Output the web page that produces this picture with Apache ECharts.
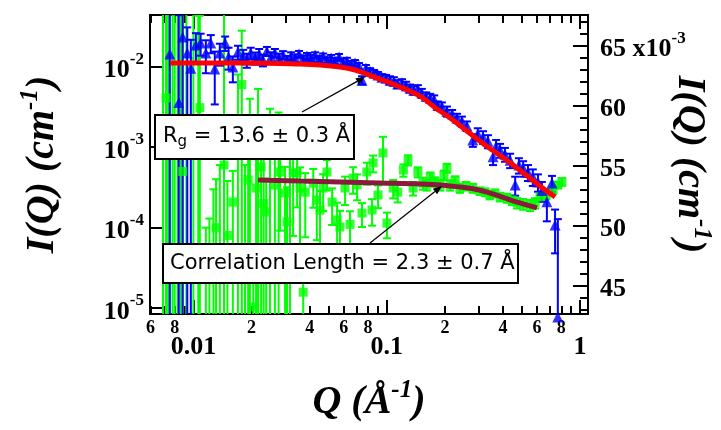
<!DOCTYPE html>
<html>
<head>
<meta charset="utf-8">
<script src="https://cdn.jsdelivr.net/npm/echarts@6/dist/echarts.min.js"></script>
<style>
html, body { margin: 0; padding: 0; background: #fff; }
#chart { width: 721px; height: 430px; }
</style>
</head>
<body>
<div id="chart"></div>
<script>
// blue triangles: Rg data set, green squares: correlation length data set
const blueQ = [0.00755, 0.0084, 0.0088, 0.0093, 0.0097, 0.0103, 0.0109, 0.0116, 0.0123, 0.0129, 0.0137, 0.0146, 0.0152, 0.0160, 0.0170,
  0.0181, 0.0189, 0.0198, 0.0209, 0.0219, 0.0229, 0.0240, 0.0252, 0.0264, 0.0277, 0.0291, 0.0305, 0.0320, 0.0335, 0.0352, 0.0369, 0.0387, 0.0406, 0.0426, 0.0447, 0.0469, 0.0491,
  0.0516, 0.0540, 0.0567, 0.0594, 0.0623, 0.0654, 0.0686, 0.0719, 0.0745, 0.0781, 0.0820, 0.0860, 0.0901, 0.0945, 0.0992,
  0.104, 0.109, 0.114, 0.120, 0.126, 0.132, 0.138, 0.145, 0.152, 0.160, 0.168, 0.176, 0.184, 0.193, 0.205, 0.218, 0.231, 0.245, 0.260,
  0.279, 0.296, 0.315, 0.334, 0.355, 0.368, 0.386, 0.409, 0.435, 0.462, 0.483, 0.508, 0.538, 0.570, 0.606, 0.635, 0.674, 0.716, 0.743, 0.768]
const blueI = [0.0144, 0.0036, 0.0234, 0.0148, 0.0096, 0.0186, 0.0197, 0.0148, 0.0197, 0.0094, 0.0148, 0.0197, 0.0132, 0.0099, 0.0152,
  0.0136, 0.0121, 0.0148, 0.0128, 0.0144, 0.0121, 0.0156, 0.0132, 0.0148, 0.0128, 0.0140, 0.0121, 0.0136, 0.0128, 0.0144, 0.0125, 0.0136, 0.0128, 0.0140, 0.0125, 0.0136, 0.0121,
  0.0128, 0.0118, 0.0132, 0.0115, 0.0118, 0.0108, 0.0111, 0.0102, 0.0068, 0.0096, 0.0088, 0.0083, 0.0079, 0.0074, 0.0072,
  0.0068, 0.0066, 0.0061, 0.0063, 0.0058, 0.0054, 0.0051, 0.0053, 0.0047, 0.0043, 0.0041, 0.0039, 0.0033, 0.0032, 0.0028, 0.0026, 0.0023, 0.0021, 0.00184,
  0.00123, 0.00146, 0.00134, 0.00119, 0.00076, 0.00103, 0.00092, 0.00082, 0.00069, 0.00034, 0.00060, 0.00055, 0.00049, 0.00043, 0.00037, 0.00029, 0.00021, 0.00036, 0.000108, 0.0000078]
const blueErr = [0.04, 0.04, 0.025, 0.016, 0.012, 0.0075, 0.006, 0.0065, 0.005, 0.006, 0.0045, 0.004, 0.004, 0.0035, 0.003,
  0.0026, 0.0024, 0.0024, 0.0022, 0.0022, 0.002, 0.002, 0.0019, 0.0018, 0.0017, 0.0016, 0.0015, 0.0015, 0.0014, 0.0013, 0.0013, 0.0012, 0.0012, 0.0011, 0.0011, 0.001, 0.001,
  0.0012, 0.0011, 0.0012, 0.0011, 0.0011, 0.001, 0.001, 0.0009, 0.0008, 0.0009, 0.0008, 0.0008, 0.0007, 0.0007, 0.0007,
  0.0008, 0.0008, 0.0007, 0.0007, 0.0007, 0.0006, 0.0006, 0.0006, 0.0006, 0.0005, 0.0005, 0.0005, 0.0004, 0.0004, 0.0004, 0.0003, 0.0003, 0.0003, 0.00025,
  0.00022, 0.00026, 0.00024, 0.00022, 0.00016, 0.0002, 0.00018, 0.00016, 0.00014, 0.00009, 0.00013, 0.00012, 0.00011, 0.0001, 0.00009, 0.00008, 0.00009, 0.00008, 0.00006, 0.00012]

const greenQ = [0.00696, 0.00722, 0.0074, 0.0078, 0.008, 0.0083, 0.0086, 0.0088, 0.0092, 0.01, 0.0106, 0.0108,
  0.0116, 0.0121, 0.0127, 0.0131, 0.0137, 0.0144, 0.015, 0.016, 0.017, 0.0178, 0.0185, 0.0192, 0.0196, 0.0204,
  0.0211, 0.0216, 0.0224, 0.0231, 0.0238, 0.0249, 0.0264, 0.0276, 0.0281, 0.0298, 0.0305, 0.0316, 0.0328, 0.0344,
  0.0356, 0.037, 0.0379, 0.0417, 0.0435, 0.0452, 0.0469, 0.0491, 0.0522, 0.0554, 0.0573, 0.0609, 0.0646, 0.067,
  0.0703, 0.0745, 0.079, 0.084, 0.085, 0.0902, 0.0957, 0.1003, 0.108, 0.114, 0.122, 0.129, 0.137, 0.145, 0.154,
  0.161, 0.168, 0.178, 0.189, 0.198, 0.205, 0.213, 0.226, 0.239, 0.257, 0.279, 0.304, 0.323, 0.342, 0.363, 0.386,
  0.419, 0.445, 0.473, 0.508, 0.552, 0.586, 0.621, 0.668, 0.725, 0.768, 0.806]
const greenI = [0.001, 0.0041, -0.002, 0.0008, -0.004, 0.002, -0.001, 0.0005, -0.003, 0.0009, -0.002, 0.0031,
  -0.0003, 0.00005, -0.0002, 0.0001, -0.0005, 0.0006, 0.00008, 0.000208, 0.002, 0.006, -0.0004, 0.000392, 0.0015, 0.0000104,
  0.000311, 0.002, 0.000568, 0.0002, 0.000157, 0.0012, 0.000339, 0.0013, 0.000492, 0.00027, 0.000118, 0.0009, 0.000479, 0.000479,
  0.000311, 0.0000158, 0.000276, 0.000357, 0.00022, 0.000165, 0.000311, 0.000492, 0.000208, 0.000125, 0.000102, 0.000311, 0.00011, 0.000414,
  0.000339, 0.000152, 0.000492, 0.000166, 0.000637, 0.000255, 0.000848, 0.000114, 0.000311, 0.000276, 0.00052, 0.000693, 0.000311, 0.000492, 0.000357,
  0.000339, 0.000426, 0.000372, 0.000339, 0.000452, 0.000552, 0.000339, 0.000392, 0.000311, 0.00033, 0.000311, 0.000285, 0.000276, 0.000255, 0.000268, 0.000242,
  0.000234, 0.000221, 0.000203, 0.000197, 0.000191, 0.000203, 0.000242, 0.000255, 0.000294, 0.000339, 0.000372]
const greenErr = [0.06, 0.06, 0.05, 0.05, 0.06, 0.05, 0.05, 0.05, 0.06, 0.05, 0.045, 0.04,
  0.0004, 0.00008, 0.0005, 0.0003, 0.0011, 0.05, 0.0003, 0.0003, 0.006, 0.022, 0.001, 0.0005, 0.0025, 0.00002,
  0.0004, 0.0033, 0.0006, 0.0006, 0.00025, 0.0018, 0.0004, 0.0014, 0.0004, 0.0003, 0.0002, 0.001, 0.0004, 0.0003,
  0.00025, 0.00004, 0.0002, 0.00018, 0.00015, 0.00012, 0.00015, 0.0002, 0.0001, 0.00008, 0.00006, 0.00012, 0.00005, 0.00015,
  0.00012, 0.00005, 0.00015, 0.00006, 0.00015, 0.00008, 0.0005, 0.00004, 0.00008, 0.00007, 0.00009, 0.0001, 0.00006, 0.00007, 0.00006,
  0.00005, 0.00006, 0.00005, 0.00005, 0.00006, 0.00007, 0.00005, 0.00004, 0.00004, 0.00004, 0.00004, 0.00003, 0.00003, 0.00003, 0.00003, 0.00003,
  0.00003, 0.00003, 0.00003, 0.00003, 0.00003, 0.00003, 0.00003, 0.00003, 0.00003, 0.00003, 0.00004]

// fitted curves
const rgFitQ = [0.00757, 0.0196, 0.0356, 0.0452, 0.0573, 0.0686, 0.079, 0.0923, 0.104, 0.124, 0.149, 0.178, 0.213, 0.304, 0.435, 0.621, 0.743]
const rgFitI = [0.0111, 0.0111, 0.0108, 0.0105, 0.0099, 0.0091, 0.0081, 0.007, 0.0063, 0.0053, 0.0043, 0.0031, 0.00231, 0.00119, 0.00064, 0.00033, 0.00024]
const corrFitQ = [0.0216, 0.0356, 0.0573, 0.0923, 0.149, 0.196, 0.28, 0.35, 0.435, 0.507, 0.599]
const corrFitI = [0.000392, 0.00038, 0.00037, 0.00036, 0.00035, 0.000336, 0.000305, 0.000265, 0.000222, 0.000198, 0.000176]

// axes
const qMin = 0.005964, qMax = 1.1
const iMin = 8.47e-6, iMax = 0.0439
const rightMin = 42.64, rightMax = 67.56
const qMinorTicks = [0.006, 0.007, 0.008, 0.009, 0.02, 0.03, 0.04, 0.05, 0.06, 0.07, 0.08, 0.09, 0.2, 0.3, 0.4, 0.5, 0.6, 0.7, 0.8, 0.9]
const qMinorLabels = [0.006, 0.008, 0.02, 0.04, 0.06, 0.08, 0.2, 0.4, 0.6, 0.8]
const qDecades = [0.01, 0.1, 1]
const iDecades = [1e-5, 1e-4, 1e-3, 1e-2]
const rightMinorTicks = [43, 44, 45, 46, 47, 48, 49, 50, 51, 52, 53, 54, 55, 56, 57, 58, 59, 60, 61, 62, 63, 64, 65, 66, 67]
const rightMajorTicks = [45, 50, 55, 60, 65]

const lg = Math.log10
const serif = 'Liberation Serif'
const black = { color: '#000', width: 2 }

function leadDigit(v) {
  const e = Math.floor(v + 1e-9)
  return String(Math.round(Math.pow(10, v - e)))
}

function xAxis(position, ticks, len, label) {
  return {
    type: 'value', position: position, min: lg(qMin), max: lg(qMax),
    axisLine: { onZero: false, lineStyle: black },
    axisTick: { inside: true, length: len, lineStyle: black, customValues: ticks.map(lg) },
    axisLabel: label || { show: false },
    splitLine: { show: false }
  }
}

function errorBars(color) {
  return function (params, api) {
    const x = api.value(0)
    const lo = api.coord([x, api.value(1)])
    const hi = api.coord([x, api.value(2)])
    const cap = 4
    const style = { stroke: color, lineWidth: 2 }
    return {
      type: 'group',
      children: [
        { type: 'line', shape: { x1: hi[0], y1: hi[1], x2: lo[0], y2: lo[1] }, style: style },
        { type: 'line', shape: { x1: hi[0] - cap, y1: hi[1], x2: hi[0] + cap, y2: hi[1] }, style: style },
        { type: 'line', shape: { x1: lo[0] - cap, y1: lo[1], x2: lo[0] + cap, y2: lo[1] }, style: style }
      ]
    }
  }
}

function barData(qs, is, es) {
  return qs.map((q, k) => {
    const low = is[k] - es[k]
    return [lg(q), low > 0 ? lg(low) : -9, lg(is[k] + es[k])]
  })
}

function pointData(qs, is) {
  return qs.map((q, k) => [q, is[k]]).filter(p => p[1] > 0).map(p => [lg(p[0]), lg(p[1])])
}

function arrow(x1, y1, x2, y2) {
  const a = Math.atan2(y2 - y1, x2 - x1)
  const bx = x2 - 9 * Math.cos(a), by = y2 - 9 * Math.sin(a)
  const px = -Math.sin(a) * 3.5, py = Math.cos(a) * 3.5
  return [
    { type: 'line', z: 100, shape: { x1: x1, y1: y1, x2: bx, y2: by }, style: { stroke: '#000', lineWidth: 1.2 } },
    { type: 'polygon', z: 100, shape: { points: [[x2, y2], [bx + px, by + py], [bx - px, by - py]] }, style: { fill: '#000' } }
  ]
}

const titleRich = {
  i: { fontFamily: serif, fontWeight: 'bold', fontStyle: 'italic', fontSize: 40, lineHeight: 50, color: '#000' },
  s: { fontFamily: serif, fontWeight: 'bold', fontStyle: 'italic', fontSize: 25, lineHeight: 25, verticalAlign: 'top', color: '#000' }
}
const tickRich = {
  b: { fontFamily: serif, fontWeight: 'bold', fontSize: 26, lineHeight: 40, color: '#000' },
  s: { fontFamily: serif, fontWeight: 'bold', fontSize: 17, lineHeight: 17, verticalAlign: 'top', color: '#000' }
}
const boxFont = 'DejaVu Sans'

const chart = echarts.init(document.getElementById('chart'))
chart.setOption({
  animation: false,
  backgroundColor: '#fff',
  grid: { left: 150, right: 133, top: 15, bottom: 116, outerBoundsMode: 'none', containLabel: false },
  xAxis: [
    xAxis('bottom', qMinorTicks, 8, {
      customValues: qMinorLabels.map(lg), formatter: leadDigit, margin: 5,
      color: '#000', fontFamily: serif, fontWeight: 'bold', fontSize: 18
    }),
    Object.assign(xAxis('bottom', qDecades, 14, {
      customValues: qDecades.map(lg), formatter: v => String(Math.pow(10, Math.round(v))), margin: 20,
      color: '#000', fontFamily: serif, fontWeight: 'bold', fontSize: 26
    }), {
      name: '{i|Q (Å}{s|-1}{i|)}', nameLocation: 'middle', nameGap: 64,
      nameTextStyle: { rich: titleRich }
    }),
    xAxis('top', qMinorTicks, 8),
    xAxis('top', qDecades, 14)
  ],
  yAxis: [
    {
      type: 'value', position: 'left', min: lg(iMin), max: lg(iMax),
      axisLine: { onZero: false, lineStyle: black },
      axisTick: { inside: true, length: 14, lineStyle: black, customValues: iDecades.map(lg) },
      axisLabel: {
        customValues: iDecades.map(lg), margin: 6, padding: [8, 0, 0, 0],
        formatter: v => '{b|10}{s|' + Math.round(v) + '}', rich: tickRich
      },
      splitLine: { show: false },
      name: '{i|I(Q) (cm}{s|-1}{i|)}', nameLocation: 'middle', nameGap: 82, nameRotate: 90,
      nameTextStyle: { rich: titleRich }
    },
    {
      type: 'value', position: 'right', min: rightMin, max: rightMax,
      axisLine: { onZero: false, lineStyle: black },
      axisTick: { inside: true, length: 8, lineStyle: black, customValues: rightMinorTicks },
      axisLabel: { show: false },
      splitLine: { show: false }
    },
    {
      type: 'value', position: 'right', min: rightMin, max: rightMax,
      axisLine: { onZero: false, lineStyle: black },
      axisTick: { inside: true, length: 15, lineStyle: black, customValues: rightMajorTicks },
      axisLabel: {
        customValues: rightMajorTicks, margin: 12, padding: [8, 0, 0, 0],
        formatter: v => v === 65 ? '{b|65 x10}{s|-3}' : '{b|' + v + '}', rich: tickRich
      },
      splitLine: { show: false },
      name: '{i|I(Q) (cm}{s|-1}{i|)}', nameLocation: 'middle', nameGap: 76, nameRotate: -90,
      nameMoveOverlap: false,
      nameTextStyle: { rich: titleRich }
    }
  ],
  series: [
    {
      type: 'custom', clip: true, renderItem: errorBars('#00ff00'),
      encode: { x: 0, y: [1, 2] }, data: barData(greenQ, greenI, greenErr)
    },
    {
      type: 'scatter', symbol: 'rect', symbolSize: 9, itemStyle: { color: '#00ff00' },
      data: pointData(greenQ, greenI)
    },
    {
      type: 'custom', clip: true, renderItem: errorBars('#0000ff'),
      encode: { x: 0, y: [1, 2] }, data: barData(blueQ, blueI, blueErr)
    },
    {
      type: 'scatter', symbol: 'triangle', symbolSize: 11, clip: false, itemStyle: { color: '#0000ff' },
      data: pointData(blueQ, blueI)
    },
    {
      type: 'line', smooth: 0.4, showSymbol: false, lineStyle: { color: '#8c1a3d', width: 5 },
      data: pointData(corrFitQ, corrFitI)
    },
    {
      type: 'line', smooth: 0.4, showSymbol: false, lineStyle: { color: '#ff0000', width: 5 },
      data: pointData(rgFitQ, rgFitI)
    }
  ],
  graphic: [
    { type: 'rect', z: 100, shape: { x: 155, y: 115, width: 199, height: 44 }, style: { fill: '#fff', stroke: '#000', lineWidth: 2 } },
    {
      type: 'text', z: 101, x: 163, y: 137,
      style: {
        text: '{a|R}{g|g}{a| = 13.6 ± 0.3 Å}', verticalAlign: 'middle',
        rich: {
          a: { fontFamily: boxFont, fontSize: 21, lineHeight: 26, fill: '#000' },
          g: { fontFamily: boxFont, fontSize: 15, lineHeight: 14, verticalAlign: 'bottom', fill: '#000' }
        }
      }
    },
    { type: 'rect', z: 100, shape: { x: 163, y: 244, width: 355, height: 39 }, style: { fill: '#fff', stroke: '#000', lineWidth: 2 } },
    {
      type: 'text', z: 101, x: 170, y: 264,
      style: { text: 'Correlation Length = 2.3 ± 0.7 Å', verticalAlign: 'middle', fontFamily: boxFont, fontSize: 21, fill: '#000' }
    }
  ].concat(arrow(302, 112, 365, 77), arrow(370, 243, 442, 186))
})
</script>
</body>
</html>
